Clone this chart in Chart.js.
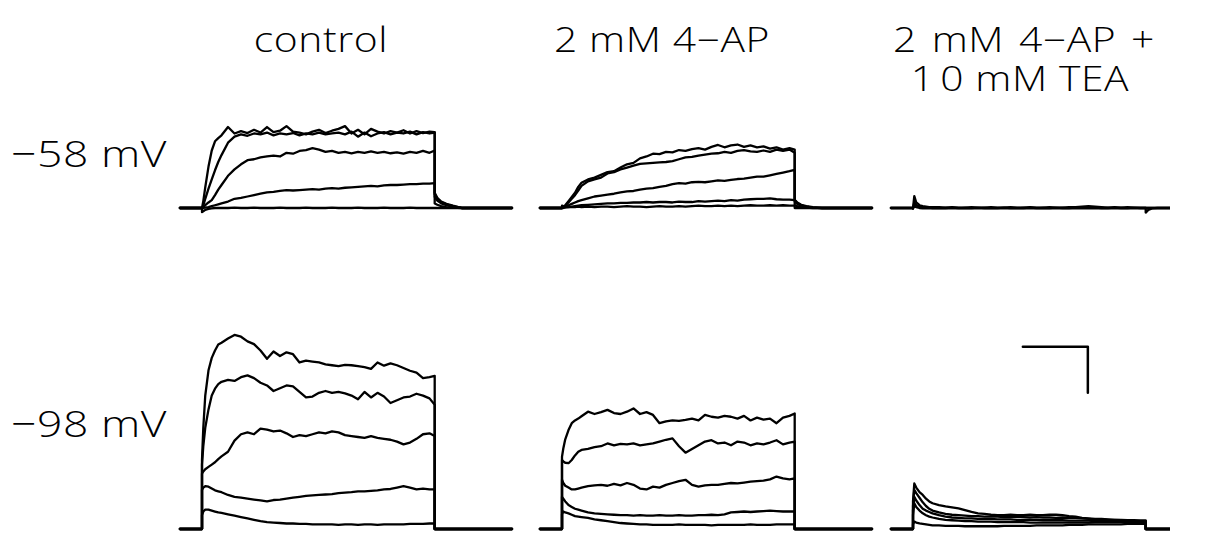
<!DOCTYPE html>
<html><head><meta charset="utf-8">
<script src="https://cdn.jsdelivr.net/npm/chart.js@4/dist/chart.umd.min.js"></script>
<style>
html,body{margin:0;padding:0;background:#fff;}
body{width:1213px;height:533px;overflow:hidden;position:relative;}
canvas{position:absolute;}
.lbl{position:absolute;font-family:'Open Sans',sans-serif;font-weight:300;color:#000;white-space:nowrap;line-height:1;}
.col{font-size:34px;letter-spacing:0.5px;word-spacing:3px;transform:translateX(-50%) scaleX(1.2);}
.tight{word-spacing:0px;}
.row{font-size:37px;letter-spacing:0.5px;transform-origin:0 0;transform:scaleX(1.2);}
.gap{letter-spacing:5px;}
</style></head><body>
<div class="lbl col" style="left:321px;top:22px">control</div>
<div class="lbl col tight" style="left:662px;top:22px">2 mM 4−AP</div>
<div class="lbl col" style="left:1024px;top:22px">2 mM 4−AP +</div>
<div class="lbl col tight" style="left:1020px;top:61px"><span class="gap">1</span>0 mM TEA</div>
<div class="lbl row" style="left:11px;top:134px">−58 mV</div>
<div class="lbl row" style="left:11px;top:404px">−98 mV</div>
<script>
// time points (ms) during the voltage step
const STEP_T = [0,2,5,10,15,20,25,30,40,50,60,70,80,90,100,110,120,130,140,150,160,170,180,190,200,210,220,230,240,250,260,270,280,290,300,310,320,330,340,350,358];
const TAIL_T = [358,362,368,376,386,400];
const PRE_T = -34, POST_T = 477;

// -58 mV, control (nA)
const TL_A = [0,0.15,0.45,0.9,1.25,1.45,1.52,1.58,1.76,1.62,1.67,1.63,1.7,1.64,1.76,1.65,1.68,1.78,1.66,1.64,1.6,1.66,1.7,1.63,1.68,1.72,1.78,1.62,1.7,1.6,1.72,1.66,1.62,1.67,1.64,1.69,1.62,1.67,1.63,1.66,1.65];
const TL_B = [0,0.05,0.2,0.42,0.62,0.82,1.0,1.15,1.42,1.55,1.6,1.57,1.62,1.6,1.64,1.58,1.62,1.6,1.63,1.58,1.62,1.6,1.64,1.6,1.62,1.64,1.6,1.66,1.55,1.64,1.56,1.62,1.65,1.6,1.64,1.62,1.66,1.6,1.65,1.62,1.64];
const TL_C = [0,0.02,0.06,0.12,0.17,0.28,0.4,0.5,0.7,0.84,0.95,1.04,1.06,1.1,1.12,1.14,1.12,1.2,1.18,1.24,1.26,1.3,1.27,1.22,1.24,1.2,1.22,1.19,1.22,1.2,1.23,1.2,1.22,1.19,1.21,1.18,1.22,1.2,1.24,1.2,1.25];
const TL_D = [0,0,0.01,0.02,0.04,0.06,0.08,0.1,0.14,0.2,0.22,0.25,0.28,0.31,0.34,0.35,0.37,0.39,0.38,0.39,0.4,0.41,0.4,0.42,0.43,0.42,0.44,0.45,0.46,0.47,0.48,0.47,0.49,0.5,0.5,0.51,0.52,0.52,0.53,0.53,0.54];
const TL_E = [-0.09,-0.07,-0.04,-0.02,-0.01,0,0,0,0,0.01,0,0,0.01,0,0,0,0.01,0,0,0,0.01,0,0,0,0.01,0,0,0,0.01,0,0,0,0.01,0,0,0,0.01,0,0,0,0];
const TL_TAIL_A = [0.33,0.22,0.14,0.09,0.05,0];
const TL_TAIL_B = [0.3,0.2,0.13,0.08,0.04,0];
const TL_TAIL_C = [0.24,0.16,0.1,0.06,0.03,0];
const TL_TAIL_D = [0.1,0.07,0.04,0.02,0.01,0];

// -58 mV, 2 mM 4-AP
const TM_A = [0,0.02,0.06,0.15,0.24,0.33,0.46,0.55,0.62,0.66,0.72,0.78,0.8,0.88,0.95,0.98,1.08,1.12,1.18,1.17,1.22,1.21,1.26,1.24,1.28,1.3,1.27,1.33,1.37,1.32,1.36,1.38,1.33,1.36,1.32,1.34,1.29,1.32,1.27,1.3,1.27];
const TM_B = [0,0.02,0.05,0.12,0.2,0.28,0.38,0.48,0.58,0.62,0.66,0.75,0.78,0.84,0.88,0.92,0.96,0.97,0.98,0.99,1.0,1.02,1.06,1.1,1.11,1.14,1.16,1.18,1.19,1.22,1.2,1.24,1.26,1.23,1.22,1.25,1.22,1.27,1.24,1.27,1.2];
const TM_C = [0,0.01,0.03,0.06,0.09,0.12,0.15,0.17,0.21,0.25,0.27,0.29,0.31,0.34,0.36,0.37,0.4,0.42,0.43,0.46,0.48,0.52,0.54,0.53,0.56,0.57,0.56,0.58,0.6,0.59,0.61,0.63,0.64,0.66,0.68,0.68,0.71,0.74,0.77,0.8,0.83];
const TM_D = [0,0,0.01,0.02,0.03,0.04,0.05,0.06,0.07,0.08,0.09,0.1,0.1,0.11,0.11,0.12,0.12,0.13,0.12,0.13,0.13,0.12,0.14,0.13,0.13,0.15,0.14,0.15,0.16,0.15,0.17,0.16,0.18,0.19,0.2,0.2,0.21,0.19,0.18,0.18,0.17];
const TM_E = [0.05,0.04,0.03,0.02,0.02,0.02,0.03,0.02,0.03,0.02,0.03,0.03,0.02,0.03,0.04,0.03,0.03,0.02,0.03,0.04,0.03,0.03,0.04,0.03,0.04,0.05,0.04,0.04,0.05,0.04,0.05,0.04,0.05,0.06,0.05,0.05,0.06,0.05,0.06,0.05,0.05];
const TM_TAIL_A = [0.18,0.12,0.07,0.04,0.02,0];
const TM_TAIL_B = [0.17,0.11,0.06,0.03,0.01,0];
const TM_TAIL_C = [0.14,0.09,0.05,0.03,0.01,0];
const TM_TAIL_D = [0.06,0.04,0.02,0.01,0,0];

// -58 mV, 4-AP + TEA
const TR_A = [0,0.26,0.12,0.06,0.04,0.03,0.02,0.02,0.02,0.01,0.02,0.01,0.01,0.02,0.01,0.01,0.02,0.01,0.01,0.02,0.01,0.01,0.02,0.01,0.01,0.02,0.01,0.01,0.02,0.02,0.03,0.04,0.03,0.02,0.01,0.02,0.01,0.02,0.01,0.01,0.01];
const TR_B = [0,0.12,0.06,0.03,0.02,0.01,0.01,0,0,0,0.01,0,0,0,0.01,0,0,0,0.01,0,0,0,0.01,0,0,0,0.01,0,0,0.01,0.01,0.02,0.01,0,0,0.01,0,0,0.01,0,0];
const TR_C = [-0.02,0.05,0.02,0,-0.01,-0.01,-0.01,-0.01,-0.01,0,-0.01,-0.01,0,-0.01,-0.01,0,-0.01,-0.01,0,-0.01,-0.01,0,-0.01,-0.01,0,-0.01,-0.01,0,-0.01,0,-0.01,0,-0.01,-0.01,0,-0.01,0,-0.01,-0.01,-0.01,-0.01];
const TR_TAIL_C = [-0.1,-0.04,-0.01,0,0,0];

// -98 mV, control
const BL_A = [1.5,2.2,2.9,3.45,3.72,3.88,4.01,4.05,4.14,4.22,4.18,4.08,4.02,3.88,3.7,3.86,3.76,3.84,3.8,3.62,3.66,3.64,3.62,3.58,3.56,3.54,3.57,3.56,3.54,3.52,3.48,3.62,3.55,3.6,3.56,3.5,3.44,3.4,3.28,3.3,3.33];
const BL_B = [1.4,1.8,2.2,2.6,2.9,3.05,3.15,3.2,3.24,3.22,3.3,3.34,3.28,3.18,3.12,3.0,3.06,3.12,3.1,2.98,2.86,2.88,2.96,3.0,2.96,2.98,2.95,2.9,2.82,2.98,2.86,2.96,2.88,2.74,2.8,2.86,2.88,2.94,2.9,2.84,2.7];
const BL_C = [1.2,1.25,1.3,1.35,1.4,1.45,1.52,1.58,1.68,1.92,2.06,2.1,2.06,2.18,2.16,2.12,2.14,2.08,2.0,2.04,2.02,2.06,2.1,2.08,2.12,2.1,2.04,2.02,2.0,1.98,2.02,1.98,1.96,1.94,1.9,1.84,1.88,1.96,2.06,2.08,2.02];
const BL_D = [0.85,0.9,0.93,0.92,0.88,0.84,0.82,0.8,0.74,0.7,0.68,0.66,0.64,0.62,0.6,0.63,0.64,0.66,0.68,0.7,0.72,0.73,0.74,0.75,0.76,0.78,0.79,0.8,0.82,0.82,0.83,0.84,0.86,0.87,0.9,0.93,0.9,0.86,0.88,0.86,0.86];
const BL_E = [0.3,0.38,0.42,0.42,0.4,0.38,0.36,0.35,0.32,0.29,0.26,0.23,0.2,0.17,0.15,0.14,0.13,0.12,0.12,0.11,0.11,0.1,0.1,0.1,0.1,0.09,0.1,0.1,0.09,0.1,0.1,0.09,0.1,0.1,0.1,0.1,0.11,0.11,0.11,0.12,0.12];

// -98 mV, 2 mM 4-AP
const BM_A = [1.57,1.75,1.95,2.15,2.3,2.36,2.4,2.45,2.55,2.5,2.54,2.59,2.52,2.5,2.55,2.62,2.5,2.54,2.48,2.3,2.34,2.36,2.35,2.37,2.4,2.36,2.48,2.44,2.42,2.46,2.44,2.4,2.46,2.36,2.42,2.38,2.4,2.3,2.42,2.46,2.51];
const BM_B = [1.5,1.47,1.44,1.43,1.5,1.6,1.68,1.72,1.74,1.78,1.8,1.86,1.82,1.85,1.84,1.86,1.82,1.84,1.86,1.9,1.94,1.97,1.8,1.66,1.74,1.82,1.9,1.93,1.86,1.88,1.82,1.9,1.88,1.82,1.86,1.84,1.88,1.93,1.84,1.88,1.9];
const BM_C = [1.07,1.0,0.94,0.9,0.86,0.86,0.88,0.9,0.93,0.95,0.96,0.94,0.98,0.95,1.0,0.96,0.88,0.86,0.92,0.9,0.96,1.0,1.04,1.07,0.96,0.92,0.95,0.96,0.96,0.98,1.0,0.99,1.01,1.03,1.04,1.05,1.08,1.14,1.1,1.08,1.1];
const BM_D = [0.7,0.66,0.6,0.52,0.48,0.44,0.42,0.4,0.36,0.34,0.33,0.32,0.31,0.3,0.3,0.29,0.3,0.29,0.29,0.3,0.29,0.29,0.3,0.29,0.29,0.3,0.3,0.31,0.3,0.32,0.36,0.37,0.38,0.37,0.38,0.39,0.4,0.39,0.38,0.38,0.38];
const BM_E = [0.32,0.38,0.36,0.34,0.31,0.28,0.27,0.26,0.24,0.21,0.19,0.17,0.15,0.13,0.12,0.11,0.1,0.1,0.09,0.09,0.09,0.09,0.1,0.09,0.09,0.09,0.09,0.08,0.09,0.09,0.09,0.09,0.09,0.1,0.09,0.09,0.09,0.1,0.1,0.1,0.1];

// -98 mV, 4-AP + TEA
const BR_A = [0.6,0.99,0.9,0.8,0.74,0.66,0.6,0.56,0.52,0.49,0.47,0.45,0.41,0.37,0.34,0.33,0.31,0.3,0.3,0.31,0.3,0.3,0.31,0.3,0.3,0.31,0.31,0.3,0.28,0.27,0.24,0.23,0.22,0.22,0.21,0.2,0.2,0.19,0.19,0.18,0.18];
const BR_B = [0.5,0.85,0.78,0.68,0.58,0.5,0.44,0.4,0.36,0.33,0.31,0.3,0.29,0.28,0.28,0.27,0.27,0.27,0.26,0.26,0.27,0.26,0.25,0.26,0.25,0.25,0.24,0.25,0.24,0.24,0.23,0.22,0.21,0.21,0.2,0.2,0.19,0.19,0.18,0.18,0.18];
const BR_C = [0.4,0.7,0.62,0.52,0.44,0.4,0.37,0.34,0.3,0.27,0.25,0.24,0.23,0.23,0.22,0.22,0.22,0.21,0.21,0.21,0.2,0.2,0.2,0.2,0.19,0.19,0.19,0.19,0.18,0.18,0.18,0.18,0.17,0.17,0.17,0.17,0.17,0.16,0.16,0.16,0.16];
const BR_D = [0.3,0.56,0.48,0.4,0.34,0.3,0.27,0.25,0.22,0.2,0.19,0.18,0.17,0.17,0.16,0.16,0.16,0.15,0.15,0.15,0.15,0.15,0.14,0.14,0.14,0.14,0.14,0.14,0.14,0.14,0.14,0.14,0.15,0.15,0.15,0.15,0.15,0.15,0.15,0.15,0.15];
const BR_E = [0.1,0.16,0.14,0.12,0.11,0.1,0.09,0.08,0.08,0.07,0.07,0.07,0.06,0.06,0.06,0.06,0.06,0.06,0.07,0.07,0.07,0.07,0.07,0.08,0.08,0.08,0.08,0.08,0.09,0.09,0.09,0.1,0.1,0.1,0.1,0.1,0.1,0.11,0.11,0.11,0.11];

// scale bar: 100 ms, 1 nA
const SCALE_MS = 100, SCALE_NA = 1;
const SCALE_T0 = 169, SCALE_I0 = 3.96;

// layout
const PX_PER_MS = 0.65, PX_PER_NA = 46;

function tracePoints(vals, tail) {
  const pts = [{x: PRE_T, y: 0}, {x: 0, y: 0}];
  STEP_T.forEach((t, i) => pts.push({x: t, y: vals[i]}));
  TAIL_T.forEach((t, i) => pts.push({x: t, y: tail ? tail[i] : 0}));
  pts.push({x: POST_T, y: 0});
  return pts;
}

function panel(box, stepPx, basePx, traces, extra) {
  const c = document.createElement('canvas');
  c.width = box.w; c.height = box.h;
  c.style.left = box.x + 'px'; c.style.top = box.y + 'px';
  document.body.appendChild(c);
  const xmin = (box.x - stepPx) / PX_PER_MS, xmax = (box.x + box.w - stepPx) / PX_PER_MS;
  const ymax = (basePx - box.y) / PX_PER_NA, ymin = (basePx - box.y - box.h) / PX_PER_NA;
  const datasets = traces.map(tr => ({data: tracePoints(tr[0], tr[1]), borderColor: '#000', borderWidth: 2.3}));
  if (extra) datasets.push(extra);
  new Chart(c, {
    type: 'line',
    data: {datasets},
    options: {
      responsive: false, animation: false, devicePixelRatio: 1, events: [],
      layout: {padding: 0},
      plugins: {legend: {display: false}, tooltip: {enabled: false}, title: {display: false}},
      scales: {
        x: {type: 'linear', min: xmin, max: xmax, display: false},
        y: {type: 'linear', min: ymin, max: ymax, display: false}
      },
      elements: {point: {radius: 0}, line: {tension: 0, fill: false, borderJoinStyle: 'round', borderCapStyle: 'round'}}
    }
  });
}

const TOP = {y: 100, h: 122}, BOT = {y: 315, h: 218};
const COLS = [{x: 170, w: 350, step: 202}, {x: 530, w: 350, step: 562}, {x: 882, w: 288, step: 913}];
const BASE_TOP = 208, BASE_BOT = 529;

panel({x: COLS[0].x, w: COLS[0].w, y: TOP.y, h: TOP.h}, COLS[0].step, BASE_TOP,
  [[TL_E, null], [TL_D, TL_TAIL_D], [TL_C, TL_TAIL_C], [TL_B, TL_TAIL_B], [TL_A, TL_TAIL_A]]);
panel({x: COLS[1].x, w: COLS[1].w, y: TOP.y, h: TOP.h}, COLS[1].step, BASE_TOP,
  [[TM_E, null], [TM_D, TM_TAIL_D], [TM_C, TM_TAIL_C], [TM_B, TM_TAIL_B], [TM_A, TM_TAIL_A]]);
panel({x: COLS[2].x, w: COLS[2].w, y: TOP.y, h: TOP.h}, COLS[2].step, BASE_TOP,
  [[TR_C, TR_TAIL_C], [TR_B, null], [TR_A, null]]);
panel({x: COLS[0].x, w: COLS[0].w, y: BOT.y, h: BOT.h}, COLS[0].step, BASE_BOT,
  [[BL_E, null], [BL_D, null], [BL_C, null], [BL_B, null], [BL_A, null]]);
panel({x: COLS[1].x, w: COLS[1].w, y: BOT.y, h: BOT.h}, COLS[1].step, BASE_BOT,
  [[BM_E, null], [BM_D, null], [BM_C, null], [BM_B, null], [BM_A, null]]);
panel({x: COLS[2].x, w: COLS[2].w, y: BOT.y, h: BOT.h}, COLS[2].step, BASE_BOT,
  [[BR_E, null], [BR_D, null], [BR_C, null], [BR_B, null], [BR_A, null]],
  {data: [{x: SCALE_T0, y: SCALE_I0}, {x: SCALE_T0 + SCALE_MS, y: SCALE_I0}, {x: SCALE_T0 + SCALE_MS, y: SCALE_I0 - SCALE_NA}],
   borderColor: '#000', borderWidth: 2.5});
</script>
</body></html>
